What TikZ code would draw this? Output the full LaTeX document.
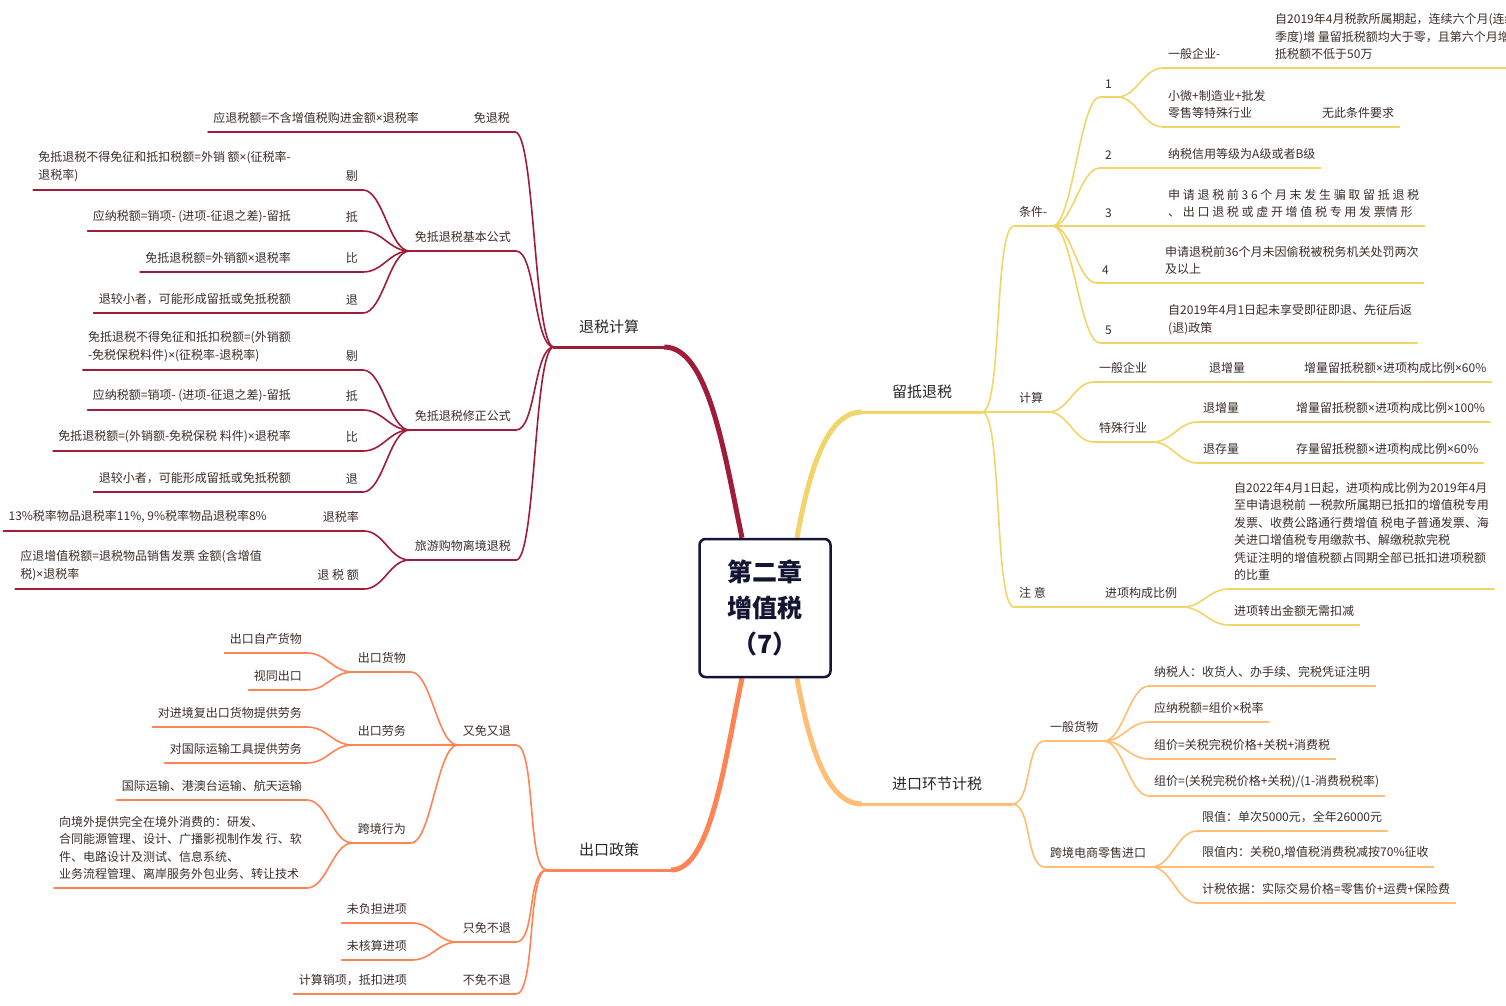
\documentclass[tikz,border=0pt]{standalone}
\usepackage{fontspec}
\setmainfont{Noto Sans CJK SC}
\newfontfamily\latinfont{Noto Sans}
\usepackage{xcolor}
\usepackage{tikz}
\usetikzlibrary{backgrounds}

\definecolor{rd}{RGB}{160,29,58}
\definecolor{yl}{RGB}{241,213,104}
\definecolor{og}{RGB}{255,131,84}
\definecolor{lo}{RGB}{255,190,115}
\definecolor{ink}{RGB}{58,46,42}
\definecolor{navy}{RGB}{20,20,52}
\newcommand\tms{{\latinfont ×}}

\begin{document}
\begin{tikzpicture}[x=1pt, y=-1pt, line cap=round,
		topic/.style={font=\fontsize{12}{17.5}\selectfont, text=ink, inner xsep=5pt, inner ysep=8pt, align=left},
		ltopic/.style={topic, anchor=south east},
		rtopic/.style={topic, anchor=south west},
		mtopic/.style={font=\fontsize{15}{18}\selectfont, text=black!85, inner ysep=13pt, anchor=south},
		tolt/.style={to path={.. controls +(-20,0) and +(20,0) .. (\tikztotarget)}},
		tort/.style={to path={.. controls +(20,0) and +(-20,0) .. (\tikztotarget)}},
		rdl/.style={draw=rd, line width=1.6pt, tolt},
		yll/.style={draw=yl, line width=1.6pt, tort},
		lol/.style={draw=lo, line width=1.6pt, tort},
		ogl/.style={draw=og, line width=1.6pt, tolt}]
		\path[use as bounding box] (0,0) rectangle (1506,1005);

		\node[draw=navy, fill=white, line width=2.5pt, rounded corners=6pt, minimum width=131pt, minimum height=138pt, align=center, text=navy, font=\bfseries\fontsize{25}{36}\selectfont] (root) at (765,608) {第二章\\增值税\\（7）};

		% main topics
		\node[mtopic, inner xsep=25pt] (tj) at (609,347) {退税计算};
		\node[mtopic, inner xsep=30pt] (ld) at (922,412) {留抵退税};
		\node[mtopic, inner xsep=30pt] (jk) at (937,804) {进口环节计税};
		\node[mtopic, inner xsep=32pt] (ck) at (609,870) {出口政策};

		% 退税计算
		\node[ltopic] (mts) at (515,132) {免退税};
		\node[ltopic] (mtsf) at (424,132) {应退税额=不含增值税购进金额\tms 退税率};
		\node[ltopic] (jb) at (516,251) {免抵退税基本公式};
		\node[ltopic] (jb1) at (363,190) {剔};
		\node[ltopic] (jb1a) at (296,190) {免抵退税不得免征和抵扣税额=外销 额\tms(征税率-\\退税率)};
		\node[ltopic] (jb2) at (363,231) {抵};
		\node[ltopic] (jb2a) at (296,231) {应纳税额=销项- (进项-征退之差)-留抵};
		\node[ltopic] (jb3) at (363,272) {比};
		\node[ltopic] (jb3a) at (296,272) {免抵退税额=外销额\tms 退税率};
		\node[ltopic] (jb4) at (363,313) {退};
		\node[ltopic] (jb4a) at (296,313) {退较小者，可能形成留抵或免抵税额};
		\node[ltopic] (xz) at (516,430) {免抵退税修正公式};
		\node[ltopic] (xz1) at (363,370) {剔};
		\node[ltopic] (xz1a) at (296,370) {免抵退税不得免征和抵扣税额=(外销额\\-免税保税料件)\tms(征税率-退税率)};
		\node[ltopic] (xz2) at (363,410) {抵};
		\node[ltopic] (xz2a) at (296,410) {应纳税额=销项- (进项-征退之差)-留抵};
		\node[ltopic] (xz3) at (363,451) {比};
		\node[ltopic] (xz3a) at (296,451) {免抵退税额=(外销额-免税保税 料件)\tms 退税率};
		\node[ltopic] (xz4) at (363,492) {退};
		\node[ltopic] (xz4a) at (296,492) {退较小者，可能形成留抵或免抵税额};
		\node[ltopic] (ly) at (516,560) {旅游购物离境退税};
		\node[ltopic] (ly1) at (364,531) {退税率};
		\node[ltopic] (ly1a) at (272,531) {13\%税率物品退税率11\%, 9\%税率物品退税率8\%};
		\node[ltopic] (ly2) at (364,589) {退 税 额};
		\node[ltopic] (ly2a) at (267,589) {应退增值税额=退税物品销售发票 金额(含增值\\税)\tms 退税率};

		% 留抵退税
		\node[rtopic] (tq) at (1014,226) {条件-};
		\node[rtopic] (tq1) at (1100,97) {1};
		\node[rtopic] (tq1a) at (1163,68) {一般企业-};
		\node[rtopic] (tq1aa) at (1270,68) {自2019年4月税款所属期起，连续六个月(连续\\季度)增 量留抵税额均大于零，且第六个月增量留\\抵税额不低于50万};
		\node[rtopic] (tq1b) at (1163,127) {小微+制造业+批发\\零售等特殊行业};
		\node[rtopic] (tq1bb) at (1317,127) {无此条件要求};
		\node[rtopic] (tq2) at (1100,168) {2};
		\node[rtopic] (tq2a) at (1163,168) {纳税信用等级为A级或者B级};
		\node[rtopic] (tq3) at (1100,226) {3};
		\node[rtopic] (tq3a) at (1163,226) {申 请 退 税 前 3 6 个 月 末 发 生 骗 取 留 抵 退 税\\、 出 口 退 税 或 虚 开 增 值 税 专 用 发 票情 形};
		\node[rtopic] (tq4) at (1097,283) {4};
		\node[rtopic] (tq4a) at (1160,283) {申请退税前36个月未因偷税被税务机关处罚两次\\及以上};
		\node[rtopic] (tq5) at (1100,343) {5};
		\node[rtopic] (tq5a) at (1163,343) {自2019年4月1日起未享受即征即退、先征后返\\(退)政策};
		\node[rtopic] (js) at (1014,412) {计算};
		\node[rtopic] (js1) at (1094,382) {一般企业};
		\node[rtopic] (js1a) at (1204,382) {退增量};
		\node[rtopic] (js1aa) at (1299,382) {增量留抵税额\tms 进项构成比例\tms 60\%};
		\node[rtopic] (js2) at (1094,442) {特殊行业};
		\node[rtopic] (js2a) at (1198,422) {退增量};
		\node[rtopic] (js2aa) at (1291,422) {增量留抵税额\tms 进项构成比例\tms 100\%};
		\node[rtopic] (js2b) at (1198,463) {退存量};
		\node[rtopic] (js2bb) at (1291,463) {存量留抵税额\tms 进项构成比例\tms 60\%};
		\node[rtopic] (zy) at (1014,607) {注 意};
		\node[rtopic] (zy1) at (1100,607) {进项构成比例};
		\node[rtopic] (zy1a) at (1229,589) {自2022年4月1日起，进项构成比例为2019年4月\\至申请退税前 一税款所属期已抵扣的增值税专用\\发票、收费公路通行费增值 税电子普通发票、海\\关进口增值税专用缴款书、解缴税款完税\\凭证注明的增值税额占同期全部已抵扣进项税额\\的比重};
		\node[rtopic] (zy1b) at (1229,625) {进项转出金额无需扣减};

		% 进口环节计税
		\node[rtopic] (yb) at (1045,741) {一般货物};
		\node[rtopic] (yb1) at (1149,686) {纳税人：收货人、办手续、完税凭证注明};
		\node[rtopic] (yb2) at (1149,722) {应纳税额=组价\tms 税率};
		\node[rtopic] (yb3) at (1149,759) {组价=关税完税价格+关税+消费税};
		\node[rtopic] (yb4) at (1149,796) {组价=(关税完税价格+关税)/(1-消费税税率)};
		\node[rtopic] (kj) at (1045,867) {跨境电商零售进口};
		\node[rtopic] (kj1) at (1197,831) {限值：单次5000元，全年26000元};
		\node[rtopic] (kj2) at (1197,867) {限值内：关税0,增值税消费税减按70\%征收};
		\node[rtopic] (kj3) at (1197,903) {计税依据：实际交易价格=零售价+运费+保险费};

		% 出口政策
		\node[ltopic] (ym) at (516,745) {又免又退};
		\node[ltopic] (ym1) at (411,672) {出口货物};
		\node[ltopic] (ym1a) at (307,653) {出口自产货物};
		\node[ltopic] (ym1b) at (307,690) {视同出口};
		\node[ltopic] (ym2) at (411,745) {出口劳务};
		\node[ltopic] (ym2a) at (307,727) {对进境复出口货物提供劳务};
		\node[ltopic] (ym2b) at (307,763) {对国际运输工具提供劳务};
		\node[ltopic] (ym3) at (411,843) {跨境行为};
		\node[ltopic] (ym3a) at (307,800) {国际运输、港澳台运输、航天运输};
		\node[ltopic] (ym3b) at (307,888) {向境外提供完全在境外消费的：研发、\\合同能源管理、设计、广播影视制作发 行、软\\件、电路设计及测试、信息系统、\\业务流程管理、离岸服务外包业务、转让技术};
		\node[ltopic] (zm) at (516,942) {只免不退};
		\node[ltopic] (zm1) at (412,923) {未负担进项};
		\node[ltopic] (zm2) at (412,960) {未核算进项};
		\node[ltopic] (bm) at (516,994) {不免不退};
		\node[ltopic] (bm1) at (412,994) {计算销项，抵扣进项};

		% underlines
		\foreach \n in {mts,mtsf,jb,jb1,jb1a,jb2,jb2a,jb3,jb3a,jb4,jb4a,xz,xz1,xz1a,xz2,xz2a,xz3,xz3a,xz4,xz4a,ly,ly1,ly1a,ly2,ly2a}
			\draw[rd, line width=1.6pt] (\n.south west) -- (\n.south east);
		\foreach \n in {tq,tq1,tq1a,tq1aa,tq1b,tq1bb,tq2,tq2a,tq3,tq3a,tq4,tq4a,tq5,tq5a,js,js1,js1a,js1aa,js2,js2a,js2aa,js2b,js2bb,zy,zy1,zy1a,zy1b}
			\draw[yl, line width=1.6pt] (\n.south west) -- (\n.south east);
		\foreach \n in {yb,yb1,yb2,yb3,yb4,kj,kj1,kj2,kj3}
			\draw[lo, line width=1.6pt] (\n.south west) -- (\n.south east);
		\foreach \n in {ym,ym1,ym1a,ym1b,ym2,ym2a,ym2b,ym3,ym3a,ym3b,zm,zm1,zm2,bm,bm1}
			\draw[og, line width=1.6pt] (\n.south west) -- (\n.south east);
		\foreach \n/\c in {tj/rd,ld/yl,jk/lo,ck/og}
			\draw[\c, line width=3pt] (\n.south west) -- (\n.south east);

		% connectors
		\draw[rdl] (tj.south west) to (mts.south east);
		\draw[rdl] (tj.south west) to (jb.south east);
		\draw[rdl] (tj.south west) to (xz.south east);
		\draw[rdl] (tj.south west) to (ly.south east);
		\draw[rdl] (mts.south west) to (mtsf.south east);
		\draw[rdl] (jb.south west) to (jb1.south east);
		\draw[rdl] (jb.south west) to (jb2.south east);
		\draw[rdl] (jb.south west) to (jb3.south east);
		\draw[rdl] (jb.south west) to (jb4.south east);
		\draw[rdl] (jb1.south west) to (jb1a.south east);
		\draw[rdl] (jb2.south west) to (jb2a.south east);
		\draw[rdl] (jb3.south west) to (jb3a.south east);
		\draw[rdl] (jb4.south west) to (jb4a.south east);
		\draw[rdl] (xz.south west) to (xz1.south east);
		\draw[rdl] (xz.south west) to (xz2.south east);
		\draw[rdl] (xz.south west) to (xz3.south east);
		\draw[rdl] (xz.south west) to (xz4.south east);
		\draw[rdl] (xz1.south west) to (xz1a.south east);
		\draw[rdl] (xz2.south west) to (xz2a.south east);
		\draw[rdl] (xz3.south west) to (xz3a.south east);
		\draw[rdl] (xz4.south west) to (xz4a.south east);
		\draw[rdl] (ly.south west) to (ly1.south east);
		\draw[rdl] (ly.south west) to (ly2.south east);
		\draw[rdl] (ly1.south west) to (ly1a.south east);
		\draw[rdl] (ly2.south west) to (ly2a.south east);

		\draw[yll] (ld.south east) to (tq.south west);
		\draw[yll] (ld.south east) to (js.south west);
		\draw[yll] (ld.south east) to (zy.south west);
		\draw[yll] (tq.south east) to (tq1.south west);
		\draw[yll] (tq.south east) to (tq2.south west);
		\draw[yll] (tq.south east) to (tq3.south west);
		\draw[yll] (tq.south east) to (tq4.south west);
		\draw[yll] (tq.south east) to (tq5.south west);
		\draw[yll] (tq1.south east) to (tq1a.south west);
		\draw[yll] (tq1.south east) to (tq1b.south west);
		\draw[yll] (tq1a.south east) to (tq1aa.south west);
		\draw[yll] (tq1b.south east) to (tq1bb.south west);
		\draw[yll] (tq2.south east) to (tq2a.south west);
		\draw[yll] (tq3.south east) to (tq3a.south west);
		\draw[yll] (tq4.south east) to (tq4a.south west);
		\draw[yll] (tq5.south east) to (tq5a.south west);
		\draw[yll] (js.south east) to (js1.south west);
		\draw[yll] (js.south east) to (js2.south west);
		\draw[yll] (js1.south east) to (js1a.south west);
		\draw[yll] (js1a.south east) to (js1aa.south west);
		\draw[yll] (js2.south east) to (js2a.south west);
		\draw[yll] (js2.south east) to (js2b.south west);
		\draw[yll] (js2a.south east) to (js2aa.south west);
		\draw[yll] (js2b.south east) to (js2bb.south west);
		\draw[yll] (zy.south east) to (zy1.south west);
		\draw[yll] (zy1.south east) to (zy1a.south west);
		\draw[yll] (zy1.south east) to (zy1b.south west);

		\draw[lol] (jk.south east) to (yb.south west);
		\draw[lol] (jk.south east) to (kj.south west);
		\draw[lol] (yb.south east) to (yb1.south west);
		\draw[lol] (yb.south east) to (yb2.south west);
		\draw[lol] (yb.south east) to (yb3.south west);
		\draw[lol] (yb.south east) to (yb4.south west);
		\draw[lol] (kj.south east) to (kj1.south west);
		\draw[lol] (kj.south east) to (kj2.south west);
		\draw[lol] (kj.south east) to (kj3.south west);

		\draw[ogl] (ck.south west) to (ym.south east);
		\draw[ogl] (ck.south west) to (zm.south east);
		\draw[ogl] (ck.south west) to (bm.south east);
		\draw[ogl] (ym.south west) to (ym1.south east);
		\draw[ogl] (ym.south west) to (ym2.south east);
		\draw[ogl] (ym.south west) to (ym3.south east);
		\draw[ogl] (ym1.south west) to (ym1a.south east);
		\draw[ogl] (ym1.south west) to (ym1b.south east);
		\draw[ogl] (ym2.south west) to (ym2a.south east);
		\draw[ogl] (ym2.south west) to (ym2b.south east);
		\draw[ogl] (ym3.south west) to (ym3a.south east);
		\draw[ogl] (ym3.south west) to (ym3b.south east);
		\draw[ogl] (zm.south west) to (zm1.south east);
		\draw[ogl] (zm.south west) to (zm2.south east);
		\draw[ogl] (bm.south west) to (bm1.south east);

		% main branches, behind the root box
		\begin{pgfonlayer}{background}
			\fill[white] (0,0) rectangle (1506,1005);
			\draw[rd, line width=5pt] ([xshift=-23pt]root.north) .. controls +(-17,-80) and +(45,0) .. (tj.south east);
			\draw[yl, line width=5pt] ([xshift=32pt]root.north) .. controls +(11,-60) and +(-37,0) .. (ld.south west);
			\draw[lo, line width=5pt] ([xshift=32pt]root.south) .. controls +(11,60) and +(-37,0) .. (jk.south west);
			\draw[og, line width=5pt] ([xshift=-23pt]root.south) .. controls +(-17,80) and +(40,0) .. (ck.south east);
		\end{pgfonlayer}
	\end{tikzpicture}
\end{document}
